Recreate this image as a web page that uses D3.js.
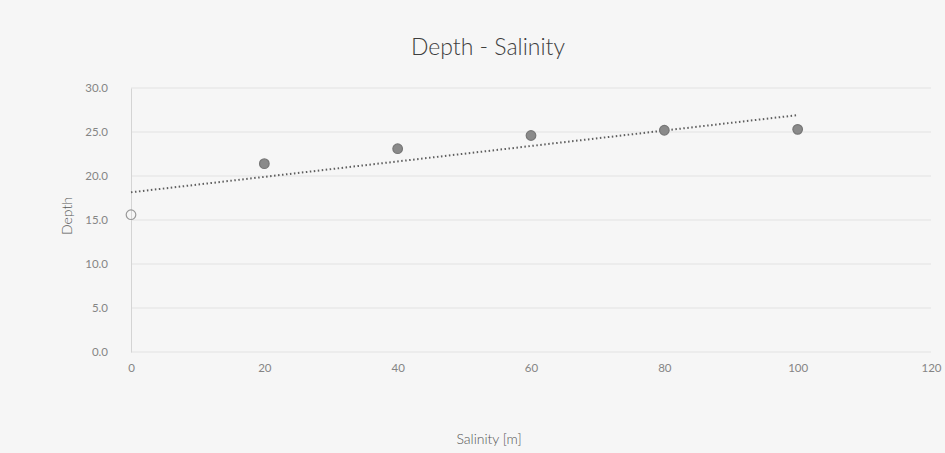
<!DOCTYPE html>
<html>
  <head>
    <title>Depth - Salinity</title>
    <script src="https://cdn.jsdelivr.net/npm/d3@7"></script>
    <style>
      body { margin: 0; background: #f6f6f6; }
      text { font-family: Lato, "Open Sans", sans-serif; }
    </style>
  </head>
  <body>
    <svg width="945" height="453" id="mainsvg"></svg>
    <script>
        // data
        const salinity = [0, 20, 40, 60, 80, 100];
        const depth = [15.6, 21.4, 23.1, 24.6, 25.2, 25.3];
        const xTicks = [0, 20, 40, 60, 80, 100, 120];
        const yTicks = [0, 5, 10, 15, 20, 25, 30];

        // @canvas
        const svg = d3.select('#mainsvg');
        const width = +svg.attr('width');
        const height = +svg.attr('height');
        const margin = {top: 88, right: 14, bottom: 101, left: 131};
        const innerWidth = width - margin.left - margin.right;
        const innerHeight = height - margin.top - margin.bottom;

        svg.append('rect').attr('width', width).attr('height', height).attr('fill', '#f6f6f6');

        const g = svg.append('g')
            .attr('transform', `translate(${margin.left}, ${margin.top})`);

        const x = d3.scaleLinear().domain([0, 120]).range([0, innerWidth]);
        const y = d3.scaleLinear().domain([0, 30]).range([innerHeight, 0]);

        // gridlines
        g.selectAll('.grid').data(yTicks).enter().append('line')
            .attr('x1', 0).attr('x2', innerWidth)
            .attr('y1', d => y(d)).attr('y2', d => y(d))
            .attr('stroke', '#e2e2e2').attr('stroke-width', 1);

        // axes
        const yAxis = d3.axisLeft(y).tickValues(yTicks).tickFormat(d3.format('.1f')).tickSize(0).tickPadding(23);
        const xAxis = d3.axisBottom(x).tickValues(xTicks).tickSize(0).tickPadding(12);
        const ya = g.append('g').call(yAxis);
        const xa = g.append('g').attr('transform', `translate(0, ${innerHeight})`).call(xAxis);
        ya.select('.domain').attr('stroke', '#d4d4d4');
        xa.select('.domain').remove();
        [ya, xa].forEach(a => a.selectAll('text').attr('fill', '#858585').attr('font-size', 11.5));

        // linear trendline (least squares of the plotted points)
        const mx = d3.mean(salinity), my = d3.mean(depth);
        const slope = d3.sum(salinity, (v, i) => (v - mx) * (depth[i] - my)) / d3.sum(salinity, v => (v - mx) ** 2);
        const icpt = my - slope * mx;
        g.append('line')
            .attr('x1', x(0)).attr('y1', y(icpt))
            .attr('x2', x(100)).attr('y2', y(icpt + slope * 100))
            .attr('stroke', '#5e5e5e').attr('stroke-width', 2)
            .attr('stroke-dasharray', '1.5,2.5');

        // points
        g.selectAll('.pt').data(salinity).enter().append('circle')
            .attr('cx', d => x(d)).attr('cy', (d, i) => y(depth[i]))
            .attr('r', 4.8)
            .attr('fill', (d, i) => i === 0 ? 'none' : '#8a8a8a')
            .attr('stroke', (d, i) => i === 0 ? '#999' : '#777')
            .attr('stroke-width', 1.2);

        // titles
        svg.append('text').attr('x', 488).attr('y', 55).attr('text-anchor', 'middle')
            .attr('font-size', 23).attr('font-weight', 300).attr('fill', '#3e3e3e').text('Depth - Salinity');
        svg.append('text').attr('x', 489).attr('y', 444).attr('text-anchor', 'middle')
            .attr('font-size', 14).attr('font-weight', 300).attr('fill', '#555').text('Salinity [m]');
        svg.append('text').attr('transform', 'translate(72, 216) rotate(-90)').attr('text-anchor', 'middle')
            .attr('font-size', 14).attr('font-weight', 300).attr('fill', '#555').text('Depth');
    </script>
  </body>
</html>
